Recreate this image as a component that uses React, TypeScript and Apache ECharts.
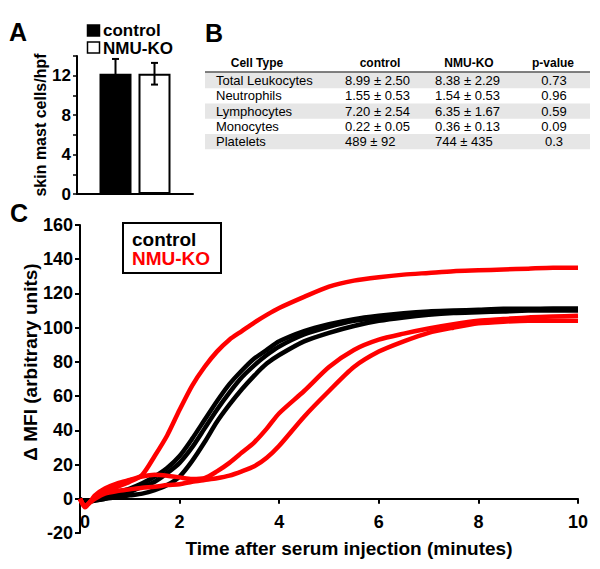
import React, { useEffect, useRef } from 'react';
import * as echarts from 'echarts';

// ---------- Panel A data ----------
const barGroups = ['control', 'NMU-KO'];
const barMeans = [12.2, 12.2];
const barErrors = [1.5, 1.1];

// ---------- Panel B data ----------
const tableHeader = ['Cell Type', 'control', 'NMU-KO', 'p-value'];
const cellTypes = ['Total Leukocytes', 'Neutrophils', 'Lymphocytes', 'Monocytes', 'Platelets'];
const controlValues = ['8.99 ± 2.50', '1.55 ± 0.53', '7.20 ± 2.54', '0.22 ± 0.05', '489 ± 92'];
const nmuValues = ['8.38 ± 2.29', '1.54 ± 0.53', '6.35 ± 1.67', '0.36 ± 0.13', '744 ± 435'];
const pValues = ['0.73', '0.96', '0.59', '0.09', '0.3'];

// ---------- Panel C data ----------
const times = [0, 0.1, 0.3, 0.5, 0.75, 1, 1.25, 1.5, 1.75, 2, 2.25, 2.5, 2.75, 3, 3.25, 3.5, 3.75, 4, 4.5, 5, 5.5, 6, 6.5, 7, 7.5, 8, 8.5, 9, 9.5, 10];
const control1 = [0, -2, 0, 2, 4, 6, 9, 13, 18, 25, 35, 46, 57, 67, 75, 82, 87, 92, 98, 102, 105, 107, 108.5, 109.5, 110, 110.5, 111, 111, 111, 111];
const control2 = [0, -2, -1, 0, 2, 4, 7, 10, 15, 21, 30, 41, 52, 62, 71, 78, 84, 89, 96, 100.5, 104, 106, 107.5, 108.5, 109.5, 110, 110.5, 110.5, 111, 111];
const control3 = [0, -2, -1, 0, 1, 2, 3, 5, 8, 13, 22, 33, 45, 55, 64, 72, 79, 84, 92, 97, 101, 104, 106, 107.5, 108.5, 109, 109.5, 110, 110, 110];
const nmu1 = [0, -4, 1, 4, 7, 10, 14, 25, 37, 52, 66, 77, 86, 93, 98, 103, 107.5, 111.5, 118, 124, 127.5, 129.5, 131, 132, 133, 133.5, 134, 134.5, 135, 135];
const nmu2 = [0, -5, 2, 6, 9, 11, 13, 14, 13.5, 12.5, 11.5, 12, 16, 21, 27, 33, 41, 50, 63, 77, 87, 93, 96.5, 99.5, 102, 104, 105, 106, 106.5, 107];
const nmu3 = [0, -4, 0, 3, 4.5, 5.5, 6.5, 7, 8, 8.5, 10, 11, 12, 13.5, 16, 19, 24, 31, 48, 63, 77, 86, 92, 97, 100, 102.5, 103.5, 104, 104, 104];
const controlCurves = [control1, control2, control3];
const nmuCurves = [nmu1, nmu2, nmu3];
const yMinC = -20;
const yMaxC = 160;

const FONT = 'Liberation Sans, Arial, Helvetica, sans-serif';
const RED = '#ff0000';
const BAR_W = 32;
const BAR_GAP = 7;
const GRID_C = { left: 80, right: 22, top: 225, bottom: 36 };

function buildOption() {
  const pair = (ys: number[]) => times.map((t, i) => [t, ys[i]]);
  const gridCHeight = 569 - GRID_C.top - GRID_C.bottom;
  // lift the x axis so that it crosses the y axis at 0
  const xAxisLift = -((0 - yMinC) / (yMaxC - yMinC)) * gridCHeight;

  const lineSeries: any[] = [];
  controlCurves.forEach((c) => {
    lineSeries.push({
      type: 'line', name: 'control', xAxisIndex: 1, yAxisIndex: 1,
      data: pair(c), showSymbol: false, smooth: 0.25,
      lineStyle: { color: '#000', width: 4.5 }, itemStyle: { color: '#000' }, z: 3,
    });
  });
  nmuCurves.forEach((c) => {
    lineSeries.push({
      type: 'line', name: 'NMU-KO', xAxisIndex: 1, yAxisIndex: 1,
      data: pair(c), showSymbol: false, smooth: 0.25,
      lineStyle: { color: RED, width: 4.5 }, itemStyle: { color: RED }, z: 4,
    });
  });

  // table graphics
  const tableEls: any[] = [];
  const tLeft = 205, tRight = 590, rowH = 15.3, row0 = 80.5;
  cellTypes.forEach((_, i) => {
    if (i % 2 === 0) {
      tableEls.push({ type: 'rect', shape: { x: tLeft, y: row0 + i * rowH - rowH / 2, width: tRight - tLeft, height: rowH }, style: { fill: '#e6e6e6' } });
    }
  });
  tableEls.push({ type: 'line', shape: { x1: tLeft, y1: 72, x2: tRight, y2: 72 }, style: { stroke: '#000', lineWidth: 1 } });
  const headerX = [257, 380, 469, 553];
  tableHeader.forEach((h, j) => {
    tableEls.push({ type: 'text', x: headerX[j], y: 63, style: { text: h, font: `bold 12px ${FONT}`, fill: '#000', align: 'center', verticalAlign: 'middle' } });
  });
  cellTypes.forEach((c, i) => {
    const y = row0 + i * rowH;
    const st = (text: string, align: string) => ({ text, font: `13px ${FONT}`, fill: '#000', align, verticalAlign: 'middle' });
    tableEls.push({ type: 'text', x: 216, y, style: st(c, 'left') });
    tableEls.push({ type: 'text', x: 345, y, style: st(controlValues[i], 'left') });
    tableEls.push({ type: 'text', x: 435, y, style: st(nmuValues[i], 'left') });
    tableEls.push({ type: 'text', x: 554, y, style: st(pValues[i], 'center') });
  });

  const boldTxt = (size: number) => `bold ${size}px ${FONT}`;

  return {
    animation: false,
    textStyle: { fontFamily: FONT },
    grid: [
      { left: 77, top: 56, width: 116, height: 138 },
      GRID_C,
    ],
    xAxis: [
      {
        type: 'category', gridIndex: 0, data: ['skin'],
        axisLine: { lineStyle: { color: '#000', width: 2 } },
        axisTick: { show: false }, axisLabel: { show: false }, splitLine: { show: false },
      },
      {
        type: 'value', gridIndex: 1, min: 0, max: 10, interval: 2,
        position: 'bottom', offset: xAxisLift,
        axisLine: { onZero: false, lineStyle: { color: '#000', width: 2 } },
        axisTick: { show: true, length: 5, lineStyle: { color: '#000', width: 2 } },
        axisLabel: { color: '#000', fontWeight: 'bold', fontSize: 18, margin: 14, alignMinLabel: 'left' },
        splitLine: { show: false },
      },
    ],
    yAxis: [
      {
        type: 'value', gridIndex: 0, min: 0, max: 14, interval: 2,
        name: 'skin mast cells/hpf', nameLocation: 'middle', nameGap: 27,
        nameTextStyle: { color: '#000', fontWeight: 'bold', fontSize: 16 },
        axisLine: { show: true, lineStyle: { color: '#000', width: 2 } },
        axisTick: { show: true, length: 4, lineStyle: { color: '#000', width: 1.5 } },
        axisLabel: { color: '#000', fontWeight: 'bold', fontSize: 17, margin: 6, formatter: (v: number) => (v % 4 === 0 ? String(v) : '') },
        splitLine: { show: false },
      },
      {
        type: 'value', gridIndex: 1, min: yMinC, max: yMaxC, interval: 20,
        axisLine: { show: true, onZero: false, lineStyle: { color: '#000', width: 2 } },
        axisTick: { show: true, length: 5, lineStyle: { color: '#000', width: 2 } },
        axisLabel: { color: '#000', fontWeight: 'bold', fontSize: 18, margin: 7 },
        splitLine: { show: false },
      },
    ],
    series: [
      {
        type: 'bar', name: barGroups[0], xAxisIndex: 0, yAxisIndex: 0,
        data: [barMeans[0]], barWidth: BAR_W, barGap: `${(BAR_GAP / BAR_W) * 100}%`,
        itemStyle: { color: '#000', borderColor: '#000', borderWidth: 1.5 }, z: 2,
      },
      {
        type: 'bar', name: barGroups[1], xAxisIndex: 0, yAxisIndex: 0,
        data: [barMeans[1]], barWidth: BAR_W,
        itemStyle: { color: '#fff', borderColor: '#000', borderWidth: 2 }, z: 2,
      },
      {
        type: 'custom', xAxisIndex: 0, yAxisIndex: 0, z: 5,
        data: barMeans.map((m, i) => [0, m, barErrors[i], i]),
        encode: { x: 0, y: 1 },
        renderItem: (params: any, api: any) => {
          const mean = api.value(1);
          const err = api.value(2);
          const idx = api.value(3);
          const top = api.coord([0, mean + err]);
          const bot = api.coord([0, mean - err]);
          const off = (idx === 0 ? -1 : 1) * (BAR_W + BAR_GAP) / 2;
          const x = top[0] + off;
          const st = { stroke: '#000', lineWidth: 2 };
          return {
            type: 'group',
            children: [
              { type: 'line', shape: { x1: x, y1: top[1], x2: x, y2: bot[1] }, style: st },
              { type: 'line', shape: { x1: x - 3.5, y1: top[1], x2: x + 3.5, y2: top[1] }, style: st },
              { type: 'line', shape: { x1: x - 3.5, y1: bot[1], x2: x + 3.5, y2: bot[1] }, style: st },
            ],
          };
        },
      },
      ...lineSeries,
    ],
    graphic: [
      // panel letters
      { type: 'text', x: 18, y: 32, style: { text: 'A', font: boldTxt(25), fill: '#000', align: 'center', verticalAlign: 'middle' } },
      { type: 'text', x: 214, y: 33, style: { text: 'B', font: boldTxt(25), fill: '#000', align: 'center', verticalAlign: 'middle' } },
      { type: 'text', x: 19, y: 213, style: { text: 'C', font: boldTxt(25), fill: '#000', align: 'center', verticalAlign: 'middle' } },
      // panel A legend
      { type: 'rect', shape: { x: 87.5, y: 25, width: 12, height: 11 }, style: { fill: '#000', stroke: '#000', lineWidth: 1.5 } },
      { type: 'text', x: 103, y: 30, style: { text: barGroups[0], font: boldTxt(17), fill: '#000', align: 'left', verticalAlign: 'middle' } },
      { type: 'rect', shape: { x: 87.5, y: 42, width: 12, height: 11 }, style: { fill: '#fff', stroke: '#000', lineWidth: 1.5 } },
      { type: 'text', x: 103, y: 48.5, style: { text: barGroups[1], font: boldTxt(17), fill: '#000', align: 'left', verticalAlign: 'middle' } },
      // table
      ...tableEls,
      // panel C legend
      { type: 'rect', shape: { x: 123, y: 223, width: 98, height: 50 }, style: { fill: '#fff', stroke: '#000', lineWidth: 2 }, z: 10 },
      { type: 'text', x: 132, y: 239, style: { text: 'control', font: boldTxt(19), fill: '#000', align: 'left', verticalAlign: 'middle' }, z: 11 },
      { type: 'text', x: 132, y: 258, style: { text: 'NMU-KO', font: boldTxt(19), fill: RED, align: 'left', verticalAlign: 'middle' }, z: 11 },
      // panel C axis names
      { type: 'text', x: 349, y: 548, style: { text: 'Time after serum injection (minutes)', font: boldTxt(19), fill: '#000', align: 'center', verticalAlign: 'middle' } },
      { type: 'text', x: 30, y: 362, rotation: Math.PI / 2, style: { text: 'Δ MFI (arbitrary units)', font: boldTxt(19), fill: '#000', align: 'center', verticalAlign: 'middle' } },
    ],
  };
}

export default function App() {
  const ref = useRef<HTMLDivElement>(null);
  useEffect(() => {
    if (!ref.current) return;
    const chart = echarts.init(ref.current, undefined, { renderer: 'svg' });
    chart.setOption(buildOption() as any);
    return () => chart.dispose();
  }, []);
  return <div ref={ref} style={{ position: 'absolute', left: 0, top: 0, width: 600, height: 569, background: '#fff' }} />;
}
